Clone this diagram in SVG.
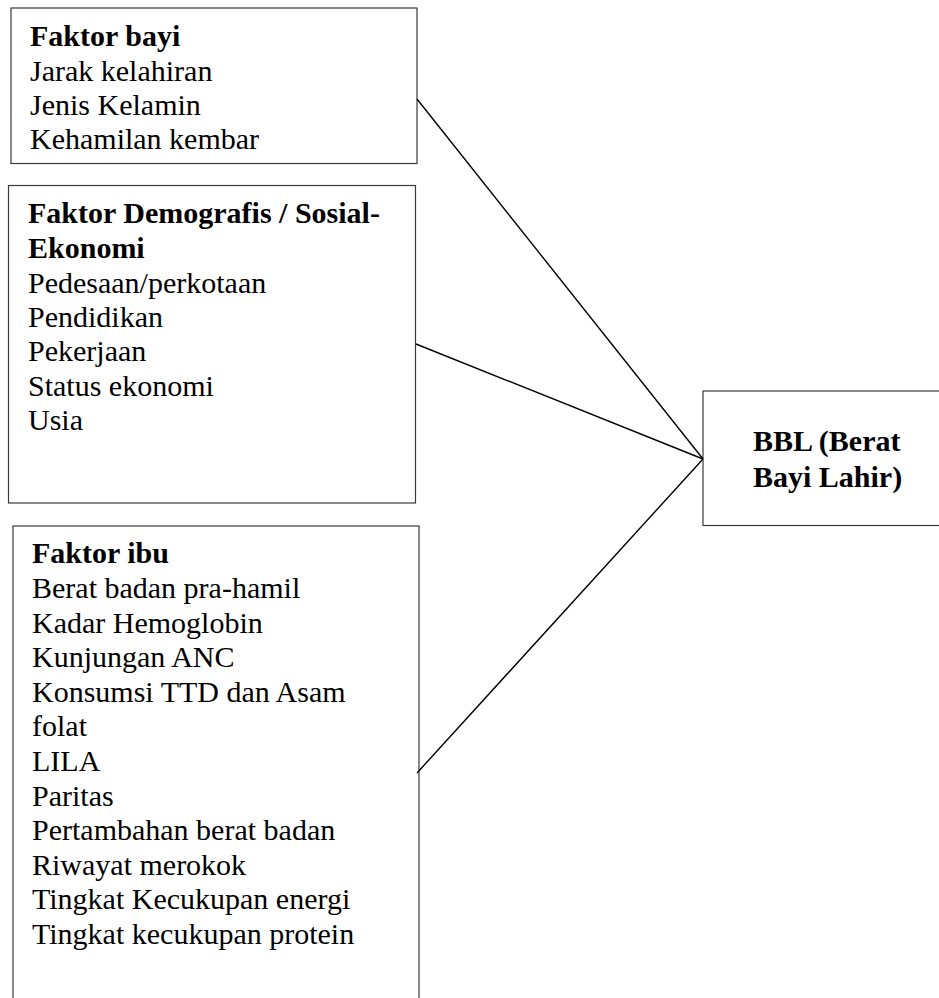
<svg xmlns="http://www.w3.org/2000/svg" width="939" height="998" viewBox="0 0 939 998">
<style>
.box{fill:#fff;stroke:#3a3a3a;stroke-width:1.2}
.t{font-family:"Liberation Serif","Times New Roman",serif;font-size:30px;fill:#000}
.b{font-weight:bold}
.conn{stroke:#000;stroke-width:1.4;fill:none}
</style>
<rect width="939" height="998" fill="#fff"/>
<g id="faktor-bayi">
<rect class="box" x="11" y="8" width="406" height="155.5"/>
<text class="t" x="30">
<tspan class="b" x="30" y="45.5">Faktor bayi</tspan>
<tspan x="30" y="80.5">Jarak kelahiran</tspan>
<tspan x="30" y="115">Jenis Kelamin</tspan>
<tspan x="30" y="149">Kehamilan kembar</tspan>
</text>
</g>
<g id="faktor-demografis">
<rect class="box" x="8.5" y="185.5" width="407" height="317.5"/>
<text class="t">
<tspan class="b" x="28" y="223.3">Faktor Demografis / Sosial-</tspan>
<tspan class="b" x="28" y="257.5">Ekonomi</tspan>
<tspan x="28" y="292.5">Pedesaan/perkotaan</tspan>
<tspan x="28" y="326.8">Pendidikan</tspan>
<tspan x="28" y="361">Pekerjaan</tspan>
<tspan x="28" y="395.6">Status ekonomi</tspan>
<tspan x="28" y="430">Usia</tspan>
</text>
</g>
<g id="faktor-ibu">
<rect class="box" x="13" y="526" width="406" height="500"/>
<text class="t">
<tspan class="b" x="32" y="563.3">Faktor ibu</tspan>
<tspan x="32" y="598">Berat badan pra-hamil</tspan>
<tspan x="32" y="632.6">Kadar Hemoglobin</tspan>
<tspan x="32" y="667.2">Kunjungan ANC</tspan>
<tspan x="32" y="701.8">Konsumsi TTD dan Asam</tspan>
<tspan x="32" y="736.4">folat</tspan>
<tspan x="32" y="771">LILA</tspan>
<tspan x="32" y="805.6">Paritas</tspan>
<tspan x="32" y="840.2">Pertambahan berat badan</tspan>
<tspan x="32" y="874.8">Riwayat merokok</tspan>
<tspan x="32" y="909.4">Tingkat Kecukupan energi</tspan>
<tspan x="32" y="944">Tingkat kecukupan protein</tspan>
</text>
</g>
<g id="bbl">
<rect class="box" x="703" y="391" width="260" height="134.5"/>
<text class="t b">
<tspan x="753" y="451">BBL (Berat</tspan>
<tspan x="753" y="486.5">Bayi Lahir)</tspan>
</text>
</g>
<g id="connectors">
<line class="conn" x1="417" y1="99" x2="703" y2="459"/>
<line class="conn" x1="416" y1="344" x2="703" y2="459"/>
<line class="conn" x1="417" y1="773" x2="703" y2="459"/>
</g>
</svg>
